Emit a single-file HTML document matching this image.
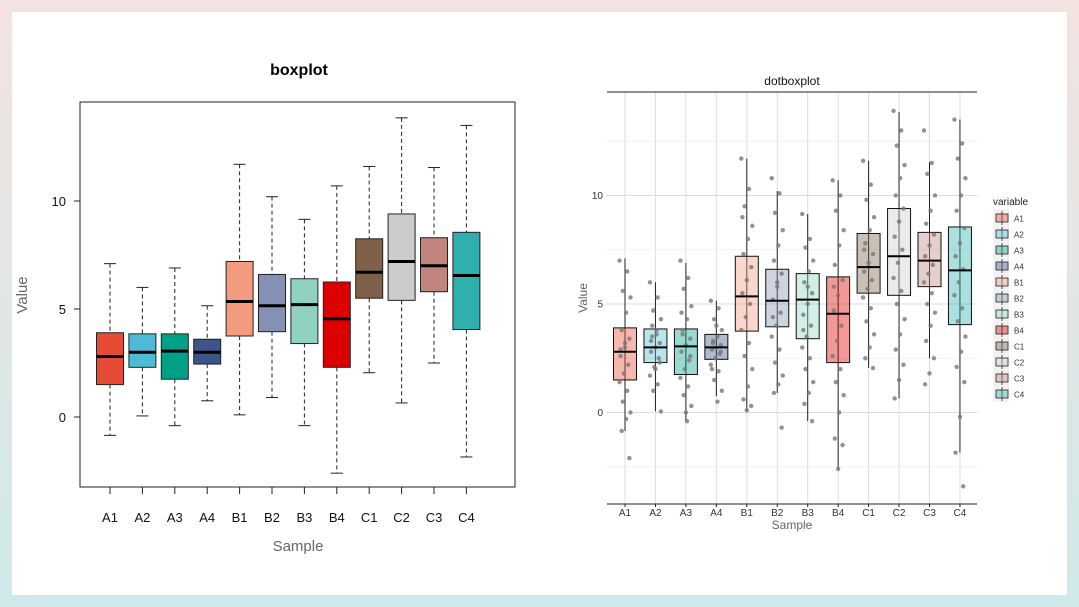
<!DOCTYPE html>
<html><head><meta charset="utf-8">
<style>
html,body{margin:0;padding:0;width:1079px;height:607px;overflow:hidden;background:linear-gradient(#f3e3e0,#cfe9ea);font-family:"Liberation Sans",sans-serif}
#card{position:absolute;left:12px;top:12px;width:1055px;height:583px;background:#fff}
svg{position:absolute;left:0;top:0}
</style></head>
<body>
<div id="card"></div>
<svg id="chart" width="1079" height="607"></svg>
<script>
const categories=["A1","A2","A3","A4","B1","B2","B3","B4","C1","C2","C3","C4"];
const lowWhisker=[-0.85,0.05,-0.4,0.75,0.1,0.9,-0.4,-2.6,2.05,0.65,2.5,-1.85];
const q1Values=[1.5,2.3,1.75,2.45,3.75,3.95,3.4,2.3,5.5,5.4,5.8,4.05];
const medianValues=[2.8,3.0,3.05,3.0,5.35,5.15,5.2,4.55,6.7,7.2,7.0,6.55];
const q3Values=[3.9,3.85,3.85,3.6,7.2,6.6,6.4,6.25,8.25,9.4,8.3,8.55];
const highWhisker=[7.1,6.0,6.9,5.15,11.7,10.2,9.15,10.7,11.6,13.85,11.55,13.5];
const colors=["#E64B35","#4DBBD5","#00A087","#3C5488","#F39B7F","#8491B4","#91D1C2","#DC0000","#7E6148","#CCCCCC","#C0857F","#2FB0AE"];
const yTicks=[0,5,10];
const dotValues=[
[7.0,6.5,5.6,5.3,4.6,3.8,3.4,3.0,2.6,2.2,1.8,1.4,1.0,0.5,0.0,-0.3,-0.85,-2.1,3.2,2.9],
[6.0,5.3,4.7,4.3,3.8,3.5,3.2,3.0,2.8,2.5,2.1,1.7,1.3,1.0,0.05,3.6,4.0,2.3,2.0,3.3],
[7.0,6.2,5.7,4.9,4.3,3.8,3.4,3.1,2.8,2.4,2.0,1.6,1.2,0.8,0.3,-0.4,3.6,2.6,0.0,4.6],
[5.15,4.8,4.3,3.8,3.5,3.3,3.1,3.0,2.9,2.7,2.5,2.2,1.9,1.5,1.0,0.5,3.2,2.8,4.0,2.0],
[11.7,10.3,9.5,8.6,8.0,7.3,6.7,6.1,5.5,5.0,4.4,3.8,3.2,2.6,2.0,1.2,0.6,0.3,0.1,9.0],
[10.8,10.1,9.2,8.4,7.7,7.0,6.4,5.8,5.2,4.6,4.0,3.5,2.9,2.3,1.7,1.3,0.9,-0.7,6.0,4.4],
[9.15,8.0,7.6,7.0,6.5,6.0,5.5,5.0,4.5,4.0,3.5,3.0,2.5,2.0,1.4,0.9,0.4,-0.4,5.8,3.8],
[10.7,10.0,9.3,8.4,7.7,6.8,6.1,5.4,4.7,4.0,3.3,2.6,2.0,1.4,0.8,0.0,-1.2,-1.5,-2.6,5.8],
[11.6,10.5,9.8,9.0,8.4,7.8,7.3,6.9,6.5,6.1,5.7,5.3,4.8,4.2,3.6,3.0,2.5,2.05,6.7,7.5],
[13.9,13.0,12.3,11.4,10.8,10.0,9.4,8.8,8.1,7.5,6.9,6.2,5.6,5.0,4.3,3.6,2.9,2.2,1.5,0.65],
[13.0,11.5,11.0,10.0,9.3,8.7,8.2,7.7,7.2,6.8,6.4,6.0,5.5,5.0,4.6,4.0,3.3,2.5,1.8,1.3],
[13.5,12.4,11.7,10.8,10.0,9.3,8.5,7.8,7.2,6.6,6.0,5.4,4.8,4.2,3.5,2.8,2.1,1.4,-0.2,-1.85,-3.4]
];
const NS="http://www.w3.org/2000/svg";
const svg=document.getElementById("chart");
function el(tag,attrs,text){const e=document.createElementNS(NS,tag);for(const k in attrs)e.setAttribute(k,attrs[k]);if(text!==undefined)e.textContent=text;svg.appendChild(e);return e;}

/* ---------- Left chart ---------- */
const L={x0:80,x1:515,y0:102,y1:487};
const lx=i=>110+i*32.4;
const ly=v=>417-v*21.6;
let t=el("text",{x:299,y:75,"text-anchor":"middle","font-size":16,"font-weight":"bold",fill:"#000"},"boxplot");


let r=el("rect",{x:L.x0,y:L.y0,width:L.x1-L.x0,height:L.y1-L.y0,fill:"none",stroke:"#222","stroke-width":1});


yTicks.forEach(v=>{
 let l=el("line",{x1:L.x0-6,x2:L.x0,y1:ly(v),y2:ly(v),stroke:"#222"});
 
 
 let tx=el("text",{x:L.x0-14,y:ly(v)+5,"text-anchor":"end","font-size":13,fill:"#111"},String(v));
 
 
});
categories.forEach((c,i)=>{
 const x=lx(i),w=27,cw=12;
 let g1=el("line",{x1:x,x2:x,y1:ly(highWhisker[i]),y2:ly(q3Values[i]),stroke:"#222","stroke-dasharray":"4,3"});
 
 
 let g2=el("line",{x1:x,x2:x,y1:ly(q1Values[i]),y2:ly(lowWhisker[i]),stroke:"#222","stroke-dasharray":"4,3"});
 
 
 [highWhisker[i],lowWhisker[i]].forEach(v=>{
  let cap=el("line",{x1:x-cw/2,x2:x+cw/2,y1:ly(v),y2:ly(v),stroke:"#222"});
  
  
 });
 let b=el("rect",{x:x-w/2,y:ly(q3Values[i]),width:w,height:ly(q1Values[i])-ly(q3Values[i]),fill:colors[i],stroke:"#222"});
 
 
 let m=el("line",{x1:x-w/2,x2:x+w/2,y1:ly(medianValues[i]),y2:ly(medianValues[i]),stroke:"#000","stroke-width":3});
 
 
 let tk=el("line",{x1:x,x2:x,y1:L.y1,y2:L.y1+7,stroke:"#222"});
 
 
 let tl=el("text",{x:x,y:522,"text-anchor":"middle","font-size":13,fill:"#111"},c);
 
 
});
t=el("text",{x:298,y:551,"text-anchor":"middle","font-size":15,fill:"#666"},"Sample");


t=el("text",{x:0,y:0,"text-anchor":"middle","font-size":15,fill:"#666",transform:"translate(27,295) rotate(-90)"},"Value");



/* ---------- Right chart ---------- */
const R={x0:607,x1:977,y0:92,y1:504};
const rx=i=>625+i*30.45;
const ry=v=>412.5-v*21.7;
t=el("text",{x:792,y:85,"text-anchor":"middle","font-size":12,fill:"#111"},"dotboxplot");


[-2.5,2.5,7.5,12.5].forEach(v=>{
 let g=el("line",{x1:R.x0,x2:R.x1,y1:ry(v),y2:ry(v),stroke:"#eee","stroke-width":0.7});
 
 
});
yTicks.forEach(v=>{
 let g=el("line",{x1:R.x0,x2:R.x1,y1:ry(v),y2:ry(v),stroke:"#ddd","stroke-width":1});
 
 
 let tl=el("text",{x:R.x0-4,y:ry(v)+3.5,"text-anchor":"end","font-size":10,fill:"#333"},String(v));
 
 
});
categories.forEach((c,i)=>{
 let g=el("line",{x1:rx(i),x2:rx(i),y1:R.y0,y2:R.y1,stroke:"#ddd","stroke-width":1});
 
 
});
let f=el("line",{x1:R.x0,x2:R.x1,y1:R.y0,y2:R.y0,stroke:"#222"});


f=el("line",{x1:R.x0,x2:R.x1,y1:R.y1,y2:R.y1,stroke:"#222"});


categories.forEach((c,i)=>{
 const x=rx(i),w=23;
 let wl=el("line",{x1:x,x2:x,y1:ry(highWhisker[i]),y2:ry(lowWhisker[i]),stroke:"#222","stroke-width":1});
 
 
 let b=el("rect",{x:x-w/2,y:ry(q3Values[i]),width:w,height:ry(q1Values[i])-ry(q3Values[i]),fill:colors[i],"fill-opacity":0.4,stroke:"#111"});
 
 
 dotValues[i].forEach((v,j)=>{
  const off=((j*7)%11-5)*1.1;
  let d=el("circle",{cx:x+off,cy:ry(v),r:2.2,fill:"#777","fill-opacity":0.8});
  
  
 });
 let m=el("line",{x1:x-w/2,x2:x+w/2,y1:ry(medianValues[i]),y2:ry(medianValues[i]),stroke:"#000","stroke-width":2});
 
 
 let tk=el("line",{x1:x,x2:x,y1:R.y1,y2:R.y1+3,stroke:"#222"});
 
 
 let tl=el("text",{x:x,y:516,"text-anchor":"middle","font-size":10,fill:"#333"},c);
 
 
});
t=el("text",{x:792,y:529,"text-anchor":"middle","font-size":12,fill:"#666"},"Sample");


t=el("text",{x:0,y:0,"text-anchor":"middle","font-size":12,fill:"#666",transform:"translate(587,298) rotate(-90)"},"Value");


t=el("text",{x:993,y:205,"font-size":10,fill:"#222"},"variable");


let lb=el("rect",{x:993,y:209,width:16,height:193,fill:"#f2f2f2"});


categories.forEach((c,i)=>{
 const y=218+i*16;
 let kl=el("line",{x1:1002,x2:1002,y1:y-7,y2:y+7,stroke:"#222","stroke-width":0.8});
 
 
 let kb=el("rect",{x:996,y:y-4,width:12,height:8,fill:colors[i],"fill-opacity":0.4,stroke:"#222","stroke-width":0.8});
 
 
 let kt=el("text",{x:1014,y:y+3.5,"font-size":8,fill:"#333"},c);
 
 
});
</script>
</body></html>
